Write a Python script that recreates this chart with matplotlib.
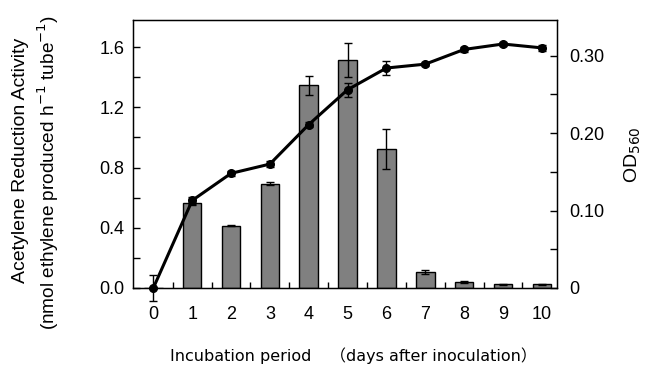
import numpy as np
import matplotlib.pyplot as plt
from matplotlib.ticker import MultipleLocator

# days after inoculation
days = np.arange(0, 11)

# acetylene reduction activity (bars, left axis)
ara = [0.0, 0.562, 0.414, 0.693, 1.346, 1.516, 0.923, 0.108, 0.042, 0.025, 0.024]
ara_err = [0.085, 0.012, 0.005, 0.01, 0.062, 0.112, 0.133, 0.012, 0.006, 0.002, 0.002]

# OD560 (line, right axis)
od = [0.0, 0.113, 0.148, 0.160, 0.211, 0.256, 0.284, 0.289, 0.308, 0.315, 0.310]
od_err = [0.0, 0.004, 0.003, 0.004, 0.003, 0.009, 0.009, 0.003, 0.003, 0.002, 0.004]

x_labels = [str(d) for d in days]
left_ticks = [0.0, 0.4, 0.8, 1.2, 1.6]
right_ticks = [0, 0.10, 0.20, 0.30]
right_labels = ["0", "0.10", "0.20", "0.30"]

plt.rcParams['font.family'] = ['Liberation Sans', 'DejaVu Sans']
gothic = ['DejaVu Sans', 'Noto Sans CJK JP']

fig = plt.figure(figsize=(6.49, 3.66), dpi=100)
ax = fig.add_axes([133/649, 78/366, 424/649, 268/366])

ax.bar(days, ara, width=0.48, color='#808080', edgecolor='black', linewidth=1.0, zorder=2)
ax.errorbar(days, ara, yerr=ara_err, fmt='none', ecolor='black', elinewidth=1.0,
            capsize=3, capthick=1.0, zorder=3, clip_on=False)

ax.set_xlim(-0.523, 10.39)
ax.set_ylim(0, 1.78)
ax.set_xticks(days)
ax.set_xticklabels(x_labels, fontsize=13)
ax.set_xticks(days[:-1] + 0.5, minor=True)
ax.tick_params(axis='x', which='major', length=0, pad=13)
ax.tick_params(axis='x', which='minor', direction='in', length=4, width=1)
ax.set_yticks(left_ticks)
ax.set_yticklabels([f"{v:.1f}" for v in left_ticks], fontsize=13)
ax.yaxis.set_minor_locator(MultipleLocator(0.2))
ax.tick_params(axis='y', which='both', direction='in', length=5, width=1, pad=6)
for s in ax.spines.values():
    s.set_linewidth(1.0)

ax2 = ax.twinx()
ax2.errorbar(days, od, yerr=od_err, fmt='-o', color='black', linewidth=2.2,
             markersize=5.5, ecolor='black', elinewidth=1.0, capsize=3,
             capthick=1.0, clip_on=False, zorder=4)
ax2.set_ylim(0, 0.346)
ax2.set_yticks(right_ticks)
ax2.set_yticklabels(right_labels, fontsize=13)
ax2.yaxis.set_minor_locator(MultipleLocator(0.05))
ax2.tick_params(axis='y', which='both', direction='in', length=5, width=1, pad=9)

fig.text(21/649, 1 - 160/366, "Acetylene Reduction Activity", rotation=90,
         ha='center', va='center', fontsize=14)
fig.text(48/649, 1 - 172/366, "(nmol ethylene produced h$^{-1}$ tube$^{-1}$)",
         rotation=90, ha='center', va='center', fontsize=13.7)
fig.text(633/649, 1 - 155/366, "OD$_{560}$", rotation=90,
         ha='center', va='center', fontsize=14)
fig.text(170/649, 1 - 356/366, "Incubation period",
         ha='left', va='center', fontsize=11.5, family=gothic)
fig.text(537/649, 1 - 356/366, "（days after inoculation）",
         ha='right', va='center', fontsize=11.5, family=gothic)

fig.savefig("out.png", dpi=100)
